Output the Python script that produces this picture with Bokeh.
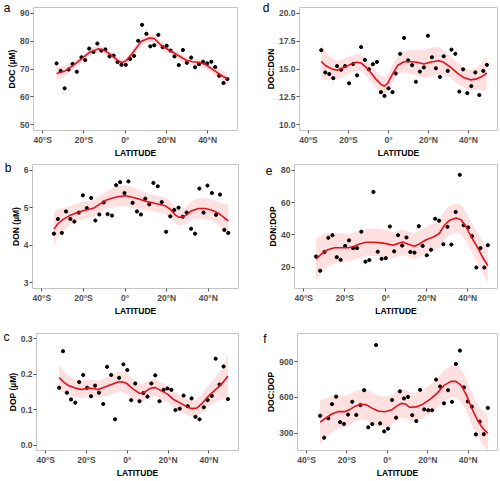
from bokeh.plotting import figure
from bokeh.layouts import column, row
from bokeh.models import FixedTicker, LinearAxis, Range1d
from bokeh.embed import file_html
from bokeh.resources import INLINE

# ---------------- data ----------------
x_ticks = [-40, -20, 0, 20, 40]
x_tick_labels = ["40°S", "20°S", "0°", "20°N", "40°N"]

# Panel a: DOC (uM)
a_lat = [-33.3, -31.3, -29.4, -27.5, -25.5, -23.5, -21.2, -19.4, -17.5, -15.4, -13.5, -11.6, -9.6, -7.6,
         -5.6, -3.7, -1.8, 0.3, 2.4, 4.3, 6.3, 8.2, 10.3, 12.2, 14.1, 16.1, 18.2, 20.1, 22.0, 23.9,
         26.0, 28.0, 29.9, 32.0, 33.9, 35.8, 37.8, 39.8, 41.8, 43.7, 45.6, 47.7, 49.6]
a_val = [72.0, 69.3, 63.1, 69.8, 71.8, 69.0, 74.2, 73.2, 77.3, 76.1, 79.1, 76.6, 77.0, 74.5,
         74.8, 72.5, 71.5, 71.5, 73.6, 74.7, 80.1, 85.8, 82.6, 78.1, 78.5, 82.2, 77.8, 78.3, 76.6, 74.5,
         71.4, 76.8, 72.2, 74.1, 70.6, 71.7, 72.6, 72.0, 72.6, 70.7, 67.6, 65.0, 66.4]
a_fit_lat = [-33.3, -29.2, -25.2, -21.2, -17.2, -13.2, -10.0, -6.7, -3.5, -1.6, 0.5, 3.7, 7.7, 11.7,
             14.1, 17.3, 21.4, 25.4, 29.4, 32.6, 35.8, 39.0, 43.1, 47.1, 49.6]
a_fit = [68.4, 69.3, 71.3, 73.6, 76.0, 77.2, 76.6, 75.0, 73.0, 72.3, 73.0, 75.8, 79.8, 81.1,
         80.9, 78.6, 76.7, 75.0, 73.2, 72.6, 72.4, 71.6, 69.5, 67.5, 66.5]
a_fit_se = [2.3, 1.9, 1.5, 1.3, 1.2, 1.2, 1.2, 1.2, 1.3, 1.3, 1.3, 1.3, 1.4, 1.4,
            1.4, 1.3, 1.2, 1.2, 1.2, 1.2, 1.2, 1.3, 1.5, 1.9, 2.4]

# Panel b: DON (uM)
b_lat = [-34.2, -32.3, -30.4, -28.4, -26.3, -24.4, -22.3, -20.3, -18.4, -16.3, -14.3, -12.4, -10.3, -8.4,
         -6.3, -4.3, -2.4, -0.3, 1.6, 3.6, 5.7, 7.6, 9.7, 11.6, 13.6, 15.7, 17.6, 19.7, 21.7, 23.6,
         25.7, 27.7, 29.6, 31.7, 33.6, 35.7, 37.7, 39.6, 41.7, 43.7, 45.6, 47.7, 49.6]
b_val = [4.31, 4.70, 4.33, 4.90, 4.70, 4.63, 4.87, 5.33, 4.99, 5.26, 4.66, 4.82, 5.14, 4.83,
         4.79, 5.60, 5.68, 5.39, 5.70, 5.13, 4.90, 4.82, 5.24, 5.09, 5.66, 5.57, 5.15, 4.36, 4.77, 4.94,
         5.00, 4.76, 4.87, 4.44, 4.31, 5.51, 4.87, 5.59, 5.39, 4.81, 5.35, 4.41, 4.33]
b_fit_lat = [-34.2, -32.2, -29.8, -26.6, -23.5, -20.3, -17.1, -14.7, -12.4, -9.2, -6.0, -2.9, 0.3, 3.5,
             6.7, 9.8, 13.0, 16.2, 19.3, 21.7, 24.1, 25.7, 27.3, 29.6, 32.0, 35.2, 38.4, 41.5, 44.7,
             47.9, 49.6]
b_fit = [4.43, 4.58, 4.69, 4.79, 4.86, 4.92, 4.96, 5.00, 5.09, 5.20, 5.26, 5.30, 5.32, 5.28,
         5.23, 5.17, 5.13, 5.09, 5.05, 4.96, 4.81, 4.75, 4.75, 4.81, 4.92, 4.98, 4.98, 4.94, 4.86,
         4.72, 4.65]
b_fit_se = [0.45, 0.38, 0.30, 0.25, 0.23, 0.23, 0.22, 0.22, 0.22, 0.23, 0.25, 0.27, 0.28, 0.27,
            0.25, 0.23, 0.22, 0.22, 0.22, 0.22, 0.22, 0.22, 0.22, 0.23, 0.25, 0.27, 0.28, 0.28, 0.30,
            0.38, 0.47]

# Panel c: DOP (uM)
c_lat = [-33.4, -31.5, -29.6, -27.6, -25.5, -23.6, -21.6, -19.7, -17.8, -15.8, -13.9, -11.8, -9.9, -7.9,
         -6.0, -4.0, -1.9, 0.0, 1.9, 3.9, 6.0, 7.9, 9.9, 11.8, 13.7, 15.8, 17.8, 19.7, 21.6, 23.6,
         25.7, 27.6, 29.6, 31.5, 33.4, 35.4, 37.5, 39.4, 41.4, 43.3, 45.2, 47.2, 49.3]
c_val = [0.162, 0.265, 0.148, 0.129, 0.120, 0.178, 0.198, 0.162, 0.138, 0.168, 0.148, 0.116, 0.221, 0.198,
         0.073, 0.190, 0.228, 0.212, 0.127, 0.174, 0.124, 0.147, 0.137, 0.174, 0.197, 0.124, 0.156, 0.160,
         0.156, 0.099, 0.103, 0.140, 0.110, 0.132, 0.080, 0.073, 0.107, 0.127, 0.139, 0.244, 0.171, 0.222,
         0.130]
c_fit_lat = [-33.4, -31.2, -28.8, -25.5, -22.3, -19.4, -16.6, -14.2, -11.0, -7.8, -4.5, -2.6, -0.5, 2.7,
             6.0, 8.1, 10.8, 13.6, 16.5, 19.7, 22.9, 26.2, 29.4, 31.8, 34.2, 36.7, 39.9, 43.1, 46.4, 49.3]
c_fit = [0.191, 0.178, 0.168, 0.161, 0.157, 0.161, 0.160, 0.157, 0.164, 0.171, 0.178, 0.179, 0.175, 0.159,
         0.146, 0.148, 0.159, 0.163, 0.154, 0.144, 0.128, 0.118, 0.108, 0.103, 0.105, 0.118, 0.139, 0.156,
         0.173, 0.195]
c_fit_se = [0.036, 0.031, 0.027, 0.025, 0.024, 0.024, 0.024, 0.024, 0.025, 0.027, 0.029, 0.030, 0.030, 0.028,
            0.026, 0.025, 0.025, 0.025, 0.024, 0.023, 0.023, 0.023, 0.023, 0.024, 0.025, 0.027, 0.030, 0.035,
            0.044, 0.060]

# Panel d: DOC:DON
d_lat = [-33.6, -31.6, -29.6, -27.6, -25.7, -23.7, -21.7, -19.7, -17.7, -15.7, -13.7, -11.8, -9.8, -7.8,
         -5.8, -3.8, -2.0, 0.0, 2.0, 3.6, 5.8, 7.8, 9.8, 11.8, 13.7, 15.7, 17.7, 19.7, 21.7, 23.7,
         25.7, 27.6, 29.6, 31.5, 33.4, 35.4, 37.3, 39.4, 41.4, 43.4, 45.4, 47.4, 49.2]
d_val = [16.68, 14.69, 14.55, 14.18, 15.26, 14.94, 15.26, 13.72, 15.45, 14.43, 16.96, 15.82, 14.97, 15.43,
         15.63, 12.93, 12.59, 13.27, 12.93, 14.60, 16.36, 17.78, 15.77, 15.34, 13.86, 14.77, 15.14, 17.98,
         16.05, 15.06, 14.29, 16.14, 14.83, 16.73, 16.36, 12.98, 14.97, 12.84, 13.47, 14.69, 12.67, 14.83,
         15.37]
d_fit_lat = [-33.6, -31.6, -28.6, -25.7, -22.8, -19.5, -16.2, -13.7, -11.3, -8.8, -6.3, -3.8, -2.2, -0.5,
             2.0, 4.5, 7.8, 11.1, 14.4, 17.7, 19.4, 21.9, 25.2, 27.6, 31.0, 34.3, 37.6, 40.9, 44.2, 46.7, 49.2]
d_fit = [15.68, 15.31, 15.03, 14.89, 15.09, 15.37, 15.60, 15.54, 15.17, 14.66, 14.09, 13.64, 13.47, 13.69,
         14.55, 15.31, 15.65, 15.65, 15.60, 15.45, 15.54, 15.65, 15.74, 15.60, 15.17, 14.66, 14.23, 14.03,
         14.12, 14.32, 14.66]
d_fit_se = [1.6, 1.3, 1.0, 0.85, 0.8, 0.75, 0.75, 0.75, 0.75, 0.75, 0.8, 0.8, 0.8, 0.8,
            0.8, 0.85, 0.95, 1.05, 1.15, 1.25, 1.3, 1.3, 1.2, 1.1, 1.0, 0.95, 0.9, 0.9, 1.0, 1.25, 1.6]

# Panel e: DON:DOP
e_lat = [-34.0, -32.0, -29.9, -28.0, -26.0, -23.9, -22.0, -19.8, -17.9, -15.9, -14.0, -11.9, -9.9, -8.0,
         -6.0, -3.9, -2.0, 0.0, 2.0, 4.1, 6.0, 8.0, 10.1, 12.0, 14.0, 16.1, 18.0, 20.0, 22.1, 24.1,
         26.0, 28.1, 30.1, 32.0, 34.1, 36.1, 38.0, 40.2, 42.1, 44.2, 46.2, 48.1, 49.8]
e_val = [26.6, 17.8, 29.4, 38.2, 39.8, 26.2, 24.6, 33.2, 36.6, 31.8, 31.8, 42.0, 23.4, 24.4,
         66.6, 29.6, 25.2, 25.6, 45.2, 29.8, 39.8, 33.4, 38.4, 29.4, 29.0, 45.4, 33.2, 27.4, 30.8, 50.0,
         48.8, 34.2, 45.0, 34.0, 54.2, 77.2, 46.0, 44.6, 39.2, 19.8, 31.8, 19.8, 33.6]
e_fit_lat = [-34.0, -31.5, -28.3, -25.0, -21.8, -18.5, -16.1, -12.8, -9.6, -6.3, -3.1, 0.2, 3.4, 5.9,
             8.3, 10.7, 14.0, 16.4, 19.7, 23.7, 26.2, 28.6, 31.1, 34.3, 36.7, 39.2, 41.6, 44.9, 47.3, 49.8]
e_fit = [25.0, 28.0, 30.8, 32.0, 32.0, 32.0, 32.6, 34.4, 35.4, 35.4, 35.2, 34.6, 33.6, 34.6,
         35.6, 34.4, 33.0, 34.4, 37.0, 39.0, 41.0, 46.0, 49.0, 50.4, 49.4, 45.0, 39.0, 32.0, 26.0, 21.0]
e_fit_se = [13.0, 12.0, 10.5, 9.5, 9.0, 8.5, 8.5, 8.5, 8.5, 8.5, 8.5, 8.5, 8.0, 8.0,
            8.0, 8.0, 8.0, 8.0, 8.0, 8.5, 8.5, 9.0, 9.0, 9.0, 9.0, 9.0, 9.0, 9.5, 10.0, 10.5]

# Panel f: DOC:DOP
f_lat = [-33.3, -31.3, -29.3, -27.4, -25.4, -23.4, -21.5, -19.5, -17.4, -15.4, -13.4, -11.5, -9.5, -7.5,
         -5.6, -3.6, -1.6, 0.3, 2.3, 4.3, 6.2, 8.2, 10.2, 12.3, 14.3, 16.2, 18.2, 20.2, 22.1, 24.1,
         26.1, 28.0, 30.0, 32.0, 33.9, 35.9, 37.9, 39.8, 41.8, 43.8, 45.7, 47.7, 49.7]
f_val = [446, 262, 425, 543, 606, 392, 377, 456, 563, 453, 535, 660, 349, 377,
         1038, 382, 315, 338, 578, 430, 650, 591, 604, 451, 402, 663, 499, 492, 492, 749,
         691, 550, 660, 563, 880, 992, 683, 566, 522, 290, 397, 292, 512]
f_fit_lat = [-33.3, -30.8, -27.5, -24.3, -21.0, -18.5, -16.1, -12.8, -10.3, -7.9, -4.6, -1.3, 2.0, 4.4,
             6.9, 8.9, 11.0, 14.3, 17.5, 21.6, 24.9, 28.2, 31.5, 33.9, 36.4, 38.9, 41.3, 44.6, 47.0, 49.7]
f_fit = [392, 423, 461, 481, 481, 499, 525, 543, 537, 512, 486, 479, 494, 525,
         550, 545, 517, 520, 543, 589, 640, 703, 734, 734, 703, 627, 525, 410, 346, 300]
f_fit_se = [185, 170, 150, 140, 135, 130, 130, 130, 130, 130, 130, 128, 125, 122,
            120, 118, 118, 118, 118, 120, 125, 130, 135, 135, 135, 135, 135, 135, 140, 145]

FONT = "Liberation Sans"
RED = "#E3101E"
TICK_PX = "8.5px"
TITLE_PX = "8.5px"
LETTER_PX = "12px"


def plain_axis(ax):
    ax.axis_line_color = None
    ax.major_tick_line_color = None
    ax.minor_tick_line_color = None
    ax.major_tick_out = 0
    ax.major_tick_in = 0
    ax.minor_tick_out = 0
    ax.minor_tick_in = 0
    ax.major_label_standoff = 0
    ax.axis_label_standoff = 0


def panel(letter, ylabel, lat, val, flat, fit, se, yr, yticks, ylabels,
          width, height, mb_left, mb_right, mb_top, mb_bottom, letter_drop, letter_standoff):
    p = figure(width=width, height=height, output_backend="svg", toolbar_location=None,
               x_range=Range1d(-44.5, 54.5), y_range=Range1d(*yr),
               min_border_left=mb_left, min_border_right=mb_right,
               min_border_top=mb_top, min_border_bottom=mb_bottom)
    p.xgrid.visible = False
    p.ygrid.visible = False
    p.outline_line_color = "#C4C4C4"
    p.outline_line_width = 1
    p.background_fill_color = "white"
    p.border_fill_color = "white"

    lo = [f - s for f, s in zip(fit, se)]
    hi = [f + s for f, s in zip(fit, se)]
    p.varea(x=flat, y1=lo, y2=hi, fill_color="#FF0000", fill_alpha=0.12)
    p.scatter(x=lat, y=val, size=3.2, color="black")
    p.line(x=flat, y=fit, line_color=RED, line_width=1.6)

    for ax in (p.xaxis[0], p.yaxis[0]):
        ax.axis_line_color = None
        ax.major_tick_line_color = "#555555"
        ax.major_tick_out = 3
        ax.major_tick_in = 0
        ax.minor_tick_line_color = None
        ax.minor_tick_out = 0
        ax.minor_tick_in = 0
        ax.major_label_text_font = FONT
        ax.major_label_text_font_style = "bold"
        ax.major_label_text_font_size = TICK_PX
        ax.major_label_text_color = "#4D4D4D"
        ax.major_label_text_line_height = 1.0
        ax.major_label_standoff = 1
        ax.axis_label_text_font = FONT
        ax.axis_label_text_font_style = "bold"
        ax.axis_label_text_font_size = TITLE_PX
        ax.axis_label_text_color = "black"
        ax.axis_label_text_line_height = 1.0
        ax.axis_label_standoff = 0

    p.xaxis[0].ticker = FixedTicker(ticks=x_ticks)
    p.xaxis[0].major_label_overrides = dict(zip(x_ticks, x_tick_labels))
    p.yaxis[0].ticker = FixedTicker(ticks=yticks)
    p.yaxis[0].major_label_overrides = dict(zip(yticks, ylabels))
    p.yaxis[0].axis_label = ylabel

    # x-axis title: an outer bottom axis with a single centred label
    xmid = 5
    xt = LinearAxis(ticker=FixedTicker(ticks=[xmid]), major_label_overrides={xmid: "LATITUDE"})
    plain_axis(xt)
    xt.major_label_text_font = FONT
    xt.major_label_text_font_style = "bold"
    xt.major_label_text_font_size = TITLE_PX
    xt.major_label_text_color = "black"
    xt.major_label_text_line_height = 1.0
    p.add_layout(xt, "below")

    # panel letter: an outer left axis with a single label near the top
    span = yr[1] - yr[0]
    ly = round(yr[1] - letter_drop * span / 128.0, 5)
    lt = LinearAxis(ticker=FixedTicker(ticks=[ly]), major_label_overrides={ly: letter})
    plain_axis(lt)
    lt.major_label_standoff = letter_standoff
    lt.major_label_text_font = FONT
    lt.major_label_text_font_size = LETTER_PX
    lt.major_label_text_color = "black"
    lt.major_label_text_line_height = 1.0
    p.add_layout(lt, "left")
    return p


pa = panel("a", "DOC (µM)", a_lat, a_val, a_fit_lat, a_fit, a_fit_se, (48, 92),
           [50, 60, 70, 80, 90], ["50", "60", "70", "80", "90"],
           250, 160, 33, 13, 7, 24, 0, -6)
pd_ = panel("d", "DOC:DON", d_lat, d_val, d_fit_lat, d_fit, d_fit_se, (9.5, 20.5),
            [10, 12.5, 15, 17.5, 20], ["10.0", "12.5", "15.0", "17.5", "20.0"],
            249, 160, 49, 2, 6, 24, 0, -7)
pb = panel("b", "DON (µM)", b_lat, b_val, b_fit_lat, b_fit, b_fit_se, (2.85, 6.15),
           [3, 4, 5, 6], ["3", "4", "5", "6"],
           250, 158, 32, 12, 4, 26, 4, -4)
pe = panel("e", "DON:DOP", e_lat, e_val, e_fit_lat, e_fit, e_fit_se, (6.8, 83.6),
           [20, 40, 60, 80], ["20", "40", "60", "80"],
           249, 158, 44, 2, 4, 26, 6, -7)
pc = panel("c", "DOP (µM)", c_lat, c_val, c_fit_lat, c_fit, c_fit_se, (-0.015, 0.315),
           [0.0, 0.1, 0.2, 0.3], ["0.0", "0.1", "0.2", "0.3"],
           250, 162, 35, 12, 15, 18, 4, -5)
pf = panel("f", "DOC:DOP", f_lat, f_val, f_fit_lat, f_fit, f_fit_se, (155, 1135),
           [300, 600, 900], ["300", "600", "900"],
           249, 162, 47, 2, 15, 18, 6, -3)

layout = column(row(pa, pd_), row(pb, pe), row(pc, pf))

open("out.html", "w").write(file_html(layout, INLINE))
